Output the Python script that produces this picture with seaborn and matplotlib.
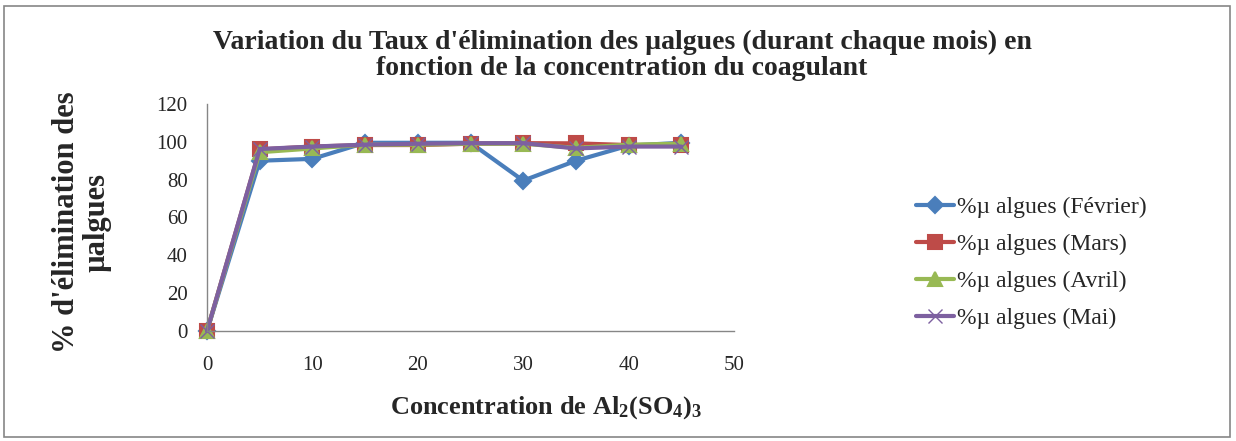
import matplotlib
matplotlib.use("Agg")
import matplotlib.pyplot as plt
from matplotlib.patches import Rectangle
import seaborn as sns
import pandas as pd

# Coagulant dose (Al2(SO4)3) and removal rate of micro-algae per month
concentration = [0, 5, 10, 15, 20, 25, 30, 35, 40, 45]
fevrier = [0, 90, 91, 99.5, 99.5, 99.5, 79.5, 90, 98, 99.5]
mars = [0, 96, 97.5, 98.3, 98.3, 99, 99.3, 99.2, 98.3, 98.3]
avril = [0, 94.5, 96.5, 98.5, 98.5, 99, 99, 96.8, 98.5, 99]
mai = [0, 96.2, 97.5, 98.5, 99, 99.3, 99.3, 96.5, 97.5, 97.5]
series_names = ["%µ algues (Février)", "%µ algues (Mars)",
                "%µ algues (Avril)", "%µ algues (Mai)"]
x_ticks = [0, 10, 20, 30, 40, 50]
y_ticks = [0, 20, 40, 60, 80, 100, 120]

frames = []
for name, vals in zip(series_names, [fevrier, mars, avril, mai]):
    frames.append(pd.DataFrame({"conc": concentration, "taux": vals, "serie": name}))
df = pd.concat(frames, ignore_index=True)

sns.set_theme(style="white")
plt.rcParams["font.family"] = ["Liberation Serif", "DejaVu Serif"]
plt.rcParams["mathtext.fontset"] = "custom"
plt.rcParams["mathtext.rm"] = "Liberation Serif:bold"
plt.rcParams["mathtext.it"] = "Liberation Serif:bold"
plt.rcParams["mathtext.bf"] = "Liberation Serif:bold"

W, H = 1236, 441
fig = plt.figure(figsize=(W / 100, H / 100), dpi=100)
ax = fig.add_axes([207 / W, 1 - 331 / H, (734 - 207) / W, (331 - 104) / H])

palette = {series_names[0]: "#4A7EBB", series_names[1]: "#BE4B48",
           series_names[2]: "#98B954", series_names[3]: "#7D60A0"}
markers = {series_names[0]: "D", series_names[1]: "s",
           series_names[2]: "^", series_names[3]: "x"}
sizes = {series_names[0]: 8, series_names[1]: 10, series_names[2]: 10, series_names[3]: 10}

for name in series_names:
    sub = df[df["serie"] == name]
    sns.lineplot(data=sub, x="conc", y="taux", ax=ax, color=palette[name],
                 marker=markers[name], markersize=sizes[name], linewidth=3,
                 markeredgecolor=palette[name],
                 markeredgewidth=1.5 if name != series_names[3] else 1.0,
                 label=name, legend=False, clip_on=False)

ax.set_xlim(0, 50)
ax.set_ylim(0, 120)
ax.set_xticks(x_ticks)
ax.set_yticks(y_ticks)
ax.tick_params(axis="both", which="both", direction="out", length=6, width=1,
               color="#868686", labelsize=15, pad=8)
ax.tick_params(axis="x", pad=12)
for side in ["top", "right"]:
    ax.spines[side].set_visible(False)
for side in ["left", "bottom"]:
    ax.spines[side].set_color("#868686")
    ax.spines[side].set_linewidth(1)

ax.set_xlabel(r"Concentration de Al$_2$(SO$_4$)$_3$", fontsize=19, fontweight="bold")
ax.xaxis.set_label_coords((546 - 207) / 527, (331 - 408) / 227)
ax.xaxis.label.set_va("center")
ax.set_ylabel("% d'élimination des\nµalgues", fontsize=22, fontweight="bold",
              linespacing=1.05)
ax.yaxis.set_label_coords((82 - 207) / 527, 0.48)
ax.yaxis.label.set_va("center")

fig.text(622 / W, 1 - 55.5 / H,
         "Variation du Taux d'élimination des µalgues (durant chaque mois) en\n"
         "fonction de la concentration du coagulant", ha="center", va="center",
         fontsize=20, fontweight="bold", linespacing=1.05)

handles, labels = ax.get_legend_handles_labels()
fig.legend(handles, labels, loc="center left", bbox_to_anchor=(916 / W, 1 - 263 / H),
           frameon=False, fontsize=17, handlelength=1.6, labelspacing=0.65,
           handletextpad=0.15, borderaxespad=0, borderpad=0)

fig.patches.append(Rectangle((4 / W, 4 / H), 1 - 10 / W, 1 - 10 / H,
                             transform=fig.transFigure, fill=False,
                             edgecolor="#868686", linewidth=1.2))

fig.savefig("out.png", dpi=100)
